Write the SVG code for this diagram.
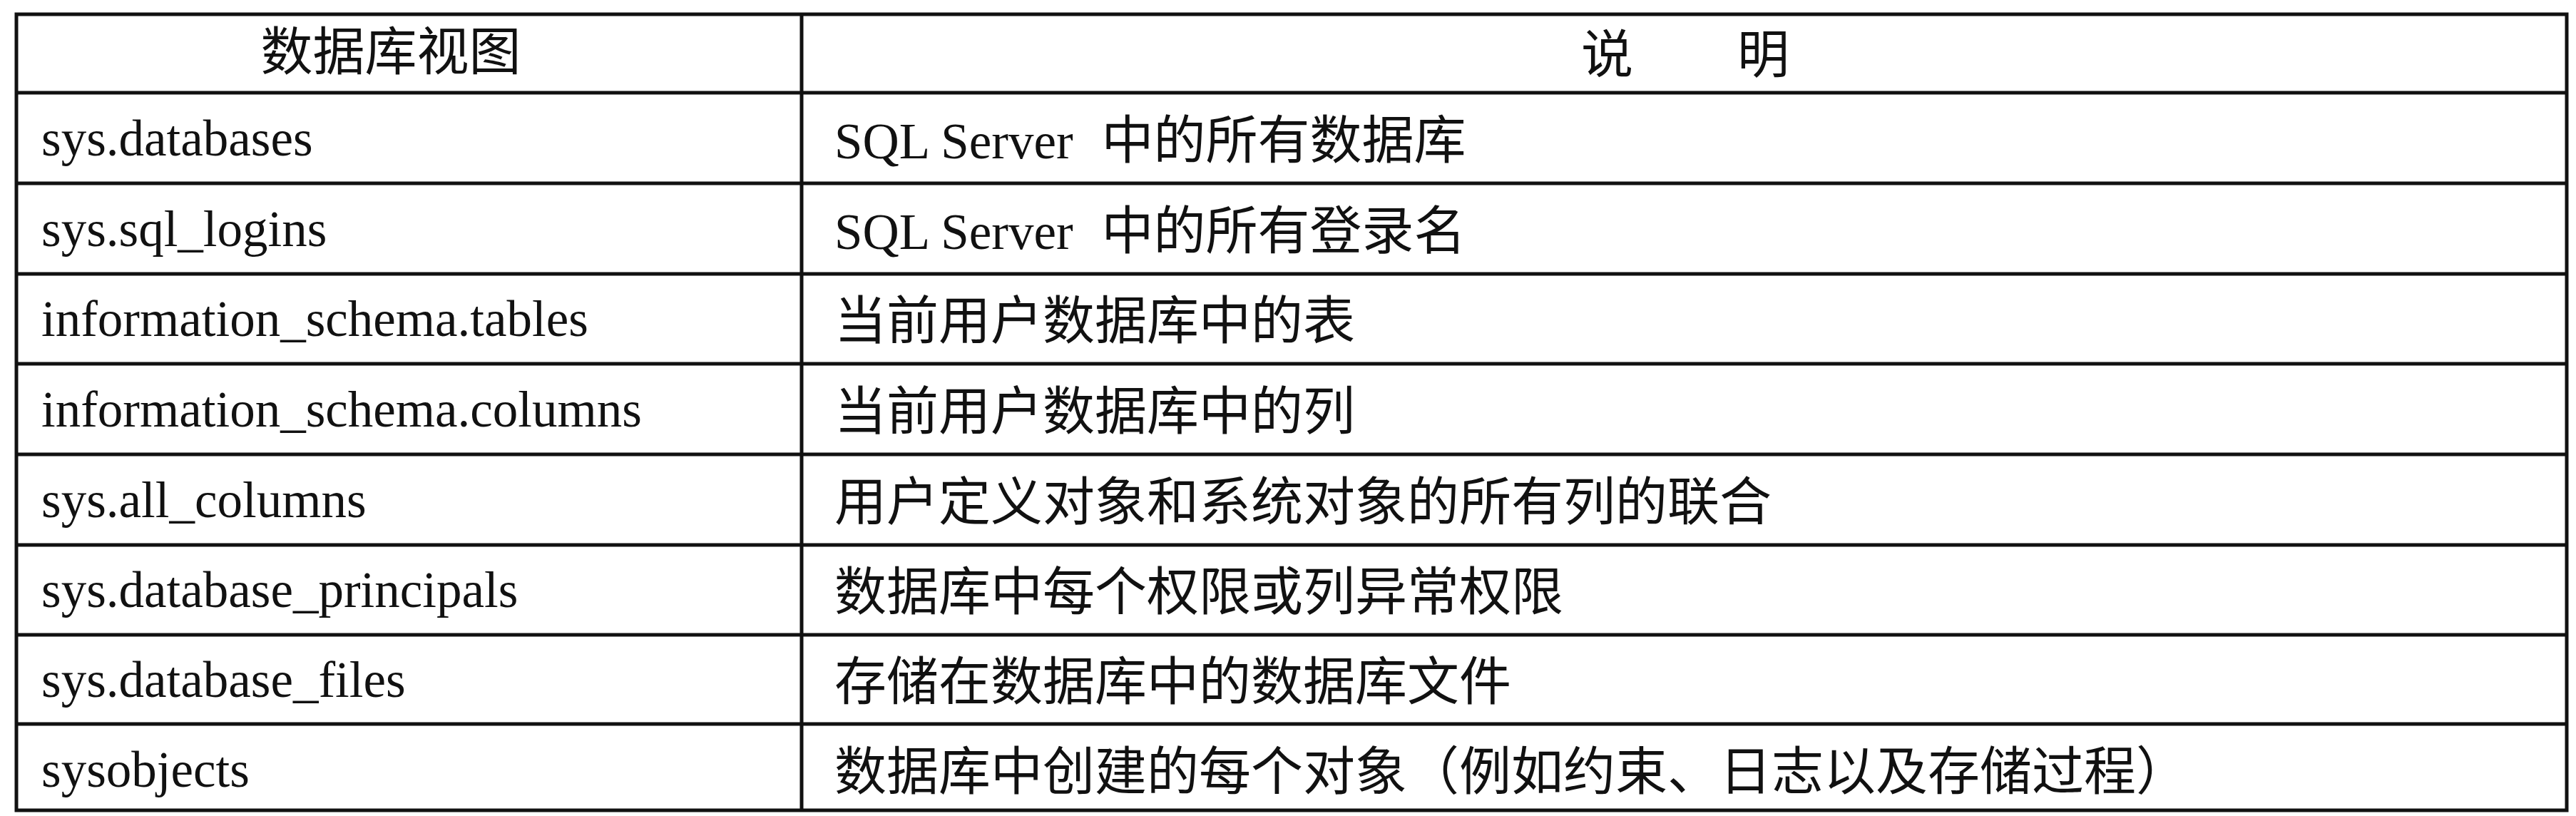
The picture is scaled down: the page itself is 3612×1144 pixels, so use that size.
<svg xmlns="http://www.w3.org/2000/svg" width="3612" height="1144" viewBox="0 0 3612 1144">
<style>
.b{stroke:#111;stroke-width:5;fill:none}
.t{font-family:"Liberation Serif","Noto Sans CJK SC",serif;font-size:71px;fill:#111}
.c{font-family:"Noto Sans CJK SC",sans-serif;font-size:73px;fill:#111}
</style>
<rect width="3612" height="1144" fill="#fff"/>
<g id="grid">
<rect class="b" x="23" y="20" width="3576" height="1116"/>
<line class="b" x1="1124" y1="20" x2="1124" y2="1136"/>
<line class="b" x1="23" y1="130" x2="3599" y2="130"/>
<line class="b" x1="23" y1="257" x2="3599" y2="257"/>
<line class="b" x1="23" y1="384" x2="3599" y2="384"/>
<line class="b" x1="23" y1="510" x2="3599" y2="510"/>
<line class="b" x1="23" y1="637" x2="3599" y2="637"/>
<line class="b" x1="23" y1="764" x2="3599" y2="764"/>
<line class="b" x1="23" y1="890" x2="3599" y2="890"/>
<line class="b" x1="23" y1="1015" x2="3599" y2="1015"/>
</g>
<g id="header">
<text class="c" x="548" y="98" text-anchor="middle">数据库视图</text>
<text class="c" x="2363" y="102" text-anchor="middle">说　　明</text>
</g>
<g id="col1" class="t">
<text x="58" y="218">sys.databases</text>
<text x="58" y="345">sys.sql_logins</text>
<text x="58" y="471">information_schema.tables</text>
<text x="58" y="598">information_schema.columns</text>
<text x="58" y="725">sys.all_columns</text>
<text x="58" y="851">sys.database_principals</text>
<text x="58" y="977">sys.database_files</text>
<text x="58" y="1103">sysobjects</text>
</g>
<g id="col2" class="t">
<text x="1170" y="222">SQL Server<tspan class="c" dx="40">中的所有数据库</tspan></text>
<text x="1170" y="349">SQL Server<tspan class="c" dx="40">中的所有登录名</tspan></text>
<text class="c" x="1170" y="475">当前用户数据库中的表</text>
<text class="c" x="1170" y="602">当前用户数据库中的列</text>
<text class="c" x="1170" y="729">用户定义对象和系统对象的所有列的联合</text>
<text class="c" x="1170" y="855">数据库中每个权限或列异常权限</text>
<text class="c" x="1170" y="981">存储在数据库中的数据库文件</text>
<text class="c" x="1170" y="1107">数据库中创建的每个对象（例如约束、日志以及存储过程）</text>
</g>
</svg>
